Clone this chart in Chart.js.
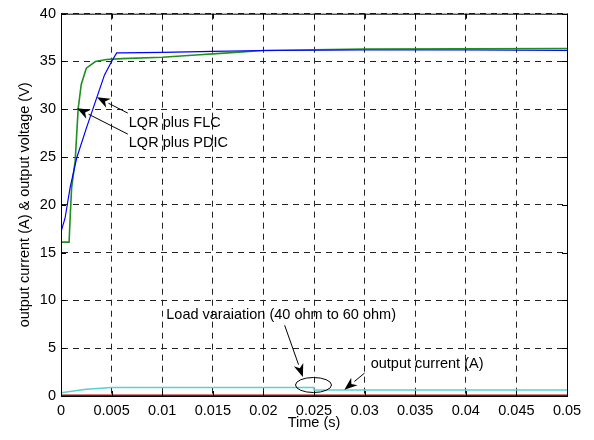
<!DOCTYPE html>
<html>
<head>
<meta charset="utf-8">
<script src="https://cdn.jsdelivr.net/npm/chart.js@4"></script>
<style>
  html, body { margin: 0; padding: 0; background: #fff; }
  #wrap { width: 594px; height: 440px; position: relative; }
</style>
</head>
<body>
<div id="wrap"><canvas id="chart"></canvas></div>
<script>
// 시간축 / 값
const flcTime = [0, 0, 0.00007, 0.0004, 0.0009, 0.00155, 0.0025, 0.0034, 0.0043, 0.005, 0.0055, 0.006, 0.01, 0.015, 0.02, 0.03, 0.04, 0.05];
const flcVolt = [0, 16.2, 17.3, 18.6, 21.8, 24.9, 28.0, 30.8, 33.6, 35.0, 35.9, 35.9, 35.95, 36.05, 36.15, 36.2, 36.2, 36.15];

const pdicTime = [0, 0, 0.0008, 0.0009, 0.00105, 0.0014, 0.0017, 0.002, 0.0025, 0.0034, 0.0045, 0.006, 0.01, 0.0137, 0.015, 0.02, 0.03, 0.05];
const pdicVolt = [0, 16.1, 16.1, 18.6, 21.8, 24.6, 30.1, 32.6, 34.3, 35.0, 35.2, 35.3, 35.45, 35.7, 35.8, 36.15, 36.3, 36.35];

const curTime = [0, 0.0025, 0.005, 0.01, 0.025, 0.025, 0.03, 0.05];
const curAmp  = [0.35, 0.7, 0.9, 0.9, 0.88, 0.63, 0.63, 0.63];

const refTime = [0, 0.05];
const refVal  = [0, 0];

const xTicks = [0, 0.005, 0.01, 0.015, 0.02, 0.025, 0.03, 0.035, 0.04, 0.045, 0.05];
const yTicks = [0, 5, 10, 15, 20, 25, 30, 35, 40];

// 주석 (데이터 좌표)
const arrows = [
    { from: [0.0066, 29.6], to: [0.00355, 31.25] },  // FLC
    { from: [0.0066, 27.4], to: [0.00158, 30.1] },   // PDIC
    { from: [0.0221, 7.4], to: [0.0239, 2.0] },      // load variation
    { from: [0.0300, 2.4], to: [0.0280, 0.65] },     // output current
];
const labels = [
    { text: "LQR plus FLC", at: [0.0067, 28.6] },
    { text: "LQR plus PDIC", at: [0.0067, 26.5] },
    { text: "Load varaiation (40 ohm to 60 ohm)", at: [0.0104, 8.45] },
    { text: "output current (A)", at: [0.0306, 3.35] },
];
const ellipse = { at: [0.02495, 1.15], rx: 18, ry: 7.5 };

const toXY = (xs, ys) => xs.map((x, i) => ({ x, y: ys[i] }));
const FONT = "'Liberation Sans', Arial, sans-serif";

// 테두리 + 안쪽 눈금 + 주석
const overlay = {
    id: "overlay",
    afterDraw(chart) {
        const { ctx, chartArea: a } = chart;
        const xs = chart.scales.x, ys = chart.scales.y;
        ctx.save();
        ctx.strokeStyle = "#000";
        ctx.lineWidth = 1;
        ctx.setLineDash([]);
        ctx.strokeRect(a.left + 0.5, a.top + 0.5, a.right - a.left, a.bottom - a.top);
        ctx.beginPath();
        xTicks.forEach((t) => {
            const px = Math.round(xs.getPixelForValue(t)) + 0.5;
            ctx.moveTo(px, a.bottom); ctx.lineTo(px, a.bottom - 5);
            ctx.moveTo(px, a.top); ctx.lineTo(px, a.top + 5);
        });
        yTicks.forEach((t) => {
            const py = Math.round(ys.getPixelForValue(t)) + 0.5;
            ctx.moveTo(a.left, py); ctx.lineTo(a.left + 5, py);
            ctx.moveTo(a.right, py); ctx.lineTo(a.right - 5, py);
        });
        ctx.stroke();

        // 화살표
        arrows.forEach((ar) => {
            const x0 = xs.getPixelForValue(ar.from[0]), y0 = ys.getPixelForValue(ar.from[1]);
            const x1 = xs.getPixelForValue(ar.to[0]), y1 = ys.getPixelForValue(ar.to[1]);
            const ang = Math.atan2(y1 - y0, x1 - x0);
            const len = 13, half = 5;
            ctx.beginPath();
            ctx.moveTo(x0, y0);
            ctx.lineTo(x1 - Math.cos(ang) * len, y1 - Math.sin(ang) * len);
            ctx.stroke();
            ctx.beginPath();
            ctx.moveTo(x1, y1);
            ctx.lineTo(x1 - Math.cos(ang) * len - Math.sin(ang) * half, y1 - Math.sin(ang) * len + Math.cos(ang) * half);
            ctx.lineTo(x1 - Math.cos(ang) * len * 0.7, y1 - Math.sin(ang) * len * 0.7);
            ctx.lineTo(x1 - Math.cos(ang) * len + Math.sin(ang) * half, y1 - Math.sin(ang) * len - Math.cos(ang) * half);
            ctx.closePath();
            ctx.fillStyle = "#000";
            ctx.fill();
        });

        // 타원
        ctx.beginPath();
        ctx.ellipse(xs.getPixelForValue(ellipse.at[0]), ys.getPixelForValue(ellipse.at[1]),
            ellipse.rx, ellipse.ry, 0, 0, Math.PI * 2);
        ctx.stroke();

        // 글자
        ctx.fillStyle = "#000";
        ctx.font = "14.5px " + FONT;
        ctx.textBaseline = "middle";
        ctx.textAlign = "left";
        labels.forEach((lb) => {
            ctx.fillText(lb.text, xs.getPixelForValue(lb.at[0]), ys.getPixelForValue(lb.at[1]));
        });
        ctx.restore();
    },
};

const gridOpts = { color: "#222", lineWidth: 1, drawTicks: false };
const borderOpts = { display: true, color: "#000", dash: [6, 5] };

new Chart(document.getElementById("chart"), {
    type: "line",
    data: {
        datasets: [
            { label: "ref", data: toXY(refTime, refVal), borderColor: "#b00000", borderWidth: 3 },
            { label: "current", data: toXY(curTime, curAmp), borderColor: "#55d2d2", borderWidth: 1.5 },
            { label: "FLC", data: toXY(flcTime, flcVolt), borderColor: "#0000ff", borderWidth: 1.2 },
            { label: "PDIC", data: toXY(pdicTime, pdicVolt), borderColor: "#1f8f1f", borderWidth: 1.6 },
        ],
    },
    options: {
        responsive: true,
        maintainAspectRatio: false,
        animation: false,
        elements: { point: { radius: 0 }, line: { tension: 0 } },
        layout: { padding: { left: 0, right: 27, top: 12, bottom: 0 } },
        plugins: { legend: { display: false }, tooltip: { enabled: false } },
        scales: {
            x: {
                type: "linear",
                min: 0, max: 0.05,
                afterBuildTicks: (s) => { s.ticks = xTicks.map((v) => ({ value: v })); },
                afterFit: (s) => { s.height = 44; },
                grid: gridOpts,
                border: borderOpts,
                ticks: {
                    color: "#000", padding: 6, maxRotation: 0,
                    font: { family: FONT, size: 14.5 },
                    callback: (v) => String(Number(v.toFixed(3))),
                },
                title: {
                    display: true, text: "Time (s)", color: "#000",
                    font: { family: FONT, size: 14.5 },
                    padding: { top: 0, bottom: 8 },
                },
            },
            y: {
                min: 0, max: 40,
                afterBuildTicks: (s) => { s.ticks = yTicks.map((v) => ({ value: v })); },
                afterFit: (s) => { s.width = 61; },
                grid: gridOpts,
                border: borderOpts,
                ticks: { color: "#000", padding: 5, font: { family: FONT, size: 14.5 } },
                title: {
                    display: true, text: "output current (A) & output voltage (V)", color: "#000",
                    font: { family: FONT, size: 14.5 },
                    padding: { top: 16, bottom: 0 },
                },
            },
        },
    },
    plugins: [overlay],
});
</script>
</body>
</html>
